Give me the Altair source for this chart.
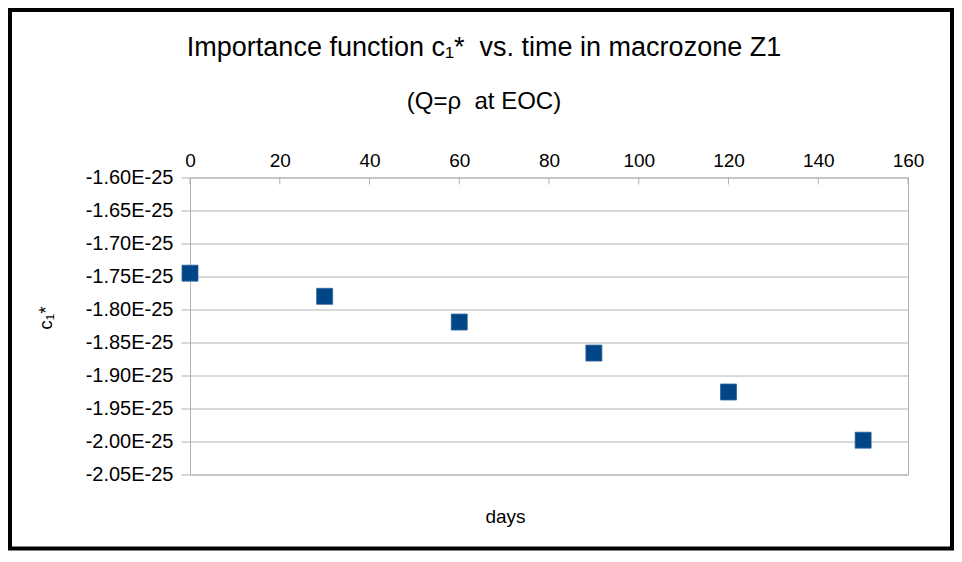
import altair as alt
import pandas as pd

# ---- data ----
days = [0, 30, 60, 90, 120, 150]
c1_star = [-1.745e-25, -1.780e-25, -1.819e-25, -1.866e-25, -1.925e-25, -1.998e-25]
x_ticks = [0, 20, 40, 60, 80, 100, 120, 140, 160]
y_ticks = [-1.60e-25, -1.65e-25, -1.70e-25, -1.75e-25, -1.80e-25,
           -1.85e-25, -1.90e-25, -1.95e-25, -2.00e-25, -2.05e-25]

title_text = "Importance function c\u2081*\u00a0 vs. time in macrozone Z1"
subtitle_text = "(Q=\u03c1\u00a0 at EOC)"
x_title = "days"
y_title = "c\u2081*"

FONT = "Liberation Sans"
W, H = 718, 297
PAD_L, PAD_T, PAD_R, PAD_B = 182, 169.5, 46, 76

pts = pd.DataFrame({"days": days, "c1": c1_star})
ticks_df = pd.DataFrame({"days": x_ticks})

x_scale = alt.Scale(domain=[0, 160], nice=False, zero=False)
y_scale = alt.Scale(domain=[-2.05e-25, -1.60e-25], nice=False, zero=False)

x_axis = alt.Axis(
    orient="top", values=x_ticks, grid=False, domain=False, ticks=False,
    tickSize=0, labelPadding=7, labelFontSize=19, labelFont=FONT,
    labelColor="#000000", labelFlush=False,
    title=x_title, titleFont=FONT, titleFontSize=19, titleFontWeight="normal",
    titleColor="#000000", titleX=315, titleY=339, titleBaseline="middle",
    titleAlign="center")

points = alt.Chart(pts).mark_point(
    shape="square", filled=True, size=256, fill="#004586",
    stroke="#2f66a0", strokeWidth=0.8, opacity=1
).encode(
    x=alt.X("days:Q", scale=x_scale, axis=x_axis),
    y=alt.Y("c1:Q", scale=y_scale, axis=alt.Axis(
        orient="left", values=y_ticks, grid=True, gridColor="#b3b3b3",
        gridWidth=1, domain=True, domainColor="#b3b3b3", ticks=True,
        tickColor="#b3b3b3", tickSize=9, labelPadding=8, labelFontSize=20,
        labelFont=FONT, labelColor="#000000", labelFlush=False,
        labelExpr="'-' + format(abs(datum.value) * 1e25, '.2f') + 'E-25'",
        title=y_title, titleFont=FONT, titleFontSize=19, titleFontWeight="normal",
        titleColor="#000000", titleAngle=270, titleX=-145, titleY=140,
        titleBaseline="middle", titleAlign="center")),
)

inner_ticks = alt.Chart(ticks_df).mark_rule(color="#b3b3b3", strokeWidth=1).encode(
    x=alt.X("days:Q", scale=x_scale, axis=x_axis),
    y=alt.value(0),
    y2=alt.value(7),
)

frame = alt.Chart(pd.DataFrame({"f": [0]})).mark_rect(
    filled=False, stroke="#000000", strokeWidth=4
).encode(
    x=alt.value(-PAD_L + 2), x2=alt.value(W + PAD_R - 2),
    y=alt.value(-PAD_T + 2), y2=alt.value(H + PAD_B - 2),
)

chart = alt.layer(points, inner_ticks, frame).properties(
    width=W, height=H,
    autosize=alt.AutoSizeParams(type="none"),
    padding={"left": PAD_L, "top": PAD_T, "right": PAD_R, "bottom": PAD_B},
    background="#ffffff",
    title=alt.TitleParams(
        text=title_text, subtitle=subtitle_text, font=FONT, subtitleFont=FONT,
        fontSize=27, subtitleFontSize=24, fontWeight="normal",
        subtitleFontWeight="normal", color="#000000", subtitleColor="#000000",
        anchor="middle", dx=-65, offset=-107, subtitlePadding=28),
).configure_view(stroke="#b3b3b3", strokeWidth=1)

chart.save("out.html", embed_options={"renderer": "svg", "actions": False})
